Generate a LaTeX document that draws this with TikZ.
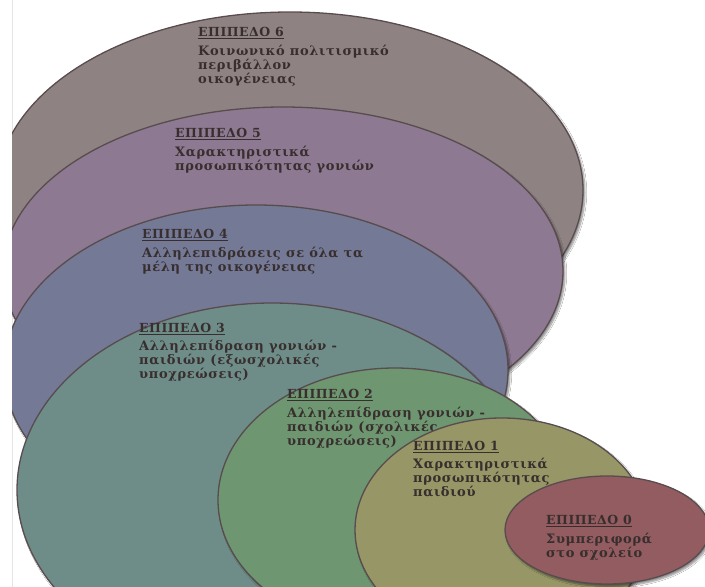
\documentclass[tikz,border=0pt]{standalone}
\usepackage{fontspec}
\newfontfamily\shellfont[LetterSpace=5]{DejaVu Serif}
\newfontfamily\headfont[LetterSpace=4]{DejaVu Serif}
\usetikzlibrary{shapes.geometric,shadows.blur}

\definecolor{sixc}{RGB}{143,130,130}
\definecolor{fivec}{RGB}{141,121,145}
\definecolor{fourc}{RGB}{116,121,150}
\definecolor{threec}{RGB}{110,141,136}
\definecolor{twoc}{RGB}{110,150,112}
\definecolor{onec}{RGB}{150,150,102}
\definecolor{zeroc}{RGB}{146,92,96}
\definecolor{edgec}{RGB}{88,76,78}
\definecolor{inkc}{RGB}{56,46,46}

\newcommand{\shellhead}[1]{{\headfont\bfseries\fontsize{12.5}{14}\selectfont\underline{#1}}}

\tikzset{
	shell/.style={ellipse, draw=edgec, line width=1.3pt, inner sep=0pt,
		blur shadow={shadow blur steps=6, shadow xshift=2pt, shadow yshift=-2.5pt, shadow opacity=45}},
	shelltext/.style={anchor=north west, inner sep=0pt, align=left, text=inkc,
		font=\shellfont\bfseries\fontsize{13}{14}\selectfont}
}

\begin{document}
\begin{tikzpicture}[x=1pt,y=-1pt]
	\useasboundingbox[fill=white] (0,0) rectangle (705,587);
	\draw[gray!20] (12,0) -- (12,587);
	\begin{scope}
		\clip (12,0) rectangle (705,587);
		% level 6
		\node[shell, fill=sixc, minimum width=586pt, minimum height=356pt] (e6) at (290,190) {};
		\node[shelltext] (t6) at (198,27) {\shellhead{ΕΠΙΠΕΔΟ 6}\\[5pt]Κοινωνικό πολιτισμικό\\περιβάλλον\\οικογένειας};
		% level 5
		\node[shell, fill=fivec, minimum width=560pt, minimum height=328pt] (e5) at (283,271) {};
		\node[shelltext] (t5) at (175,128) {\shellhead{ΕΠΙΠΕΔΟ 5}\\[5pt]Χαρακτηριστικά\\προσωπικότητας γονιών};
		% level 4
		\node[shell, fill=fourc, minimum width=504pt, minimum height=330pt] (e4) at (256,370) {};
		\node[shelltext] (t4) at (142,229) {\shellhead{ΕΠΙΠΕΔΟ 4}\\[5pt]Αλληλεπιδράσεις σε όλα τα\\μέλη της οικογένειας};
		% level 3
		\node[shell, fill=threec, minimum width=510pt, minimum height=374pt] (e3) at (272,490) {};
		\node[shelltext] (t3) at (139,323) {\shellhead{ΕΠΙΠΕΔΟ 3}\\[4pt]Αλληλεπίδραση γονιών -\\παιδιών (εξωσχολικές\\υποχρεώσεις)};
		% level 2
		\node[shell, fill=twoc, minimum width=354pt, minimum height=264pt] (e2) at (395,500) {};
		\node[shelltext] (t2) at (287,389) {\shellhead{ΕΠΙΠΕΔΟ 2}\\[5pt]Αλληλεπίδραση γονιών -\\παιδιών (σχολικές\\υποχρεώσεις)};
		% level 1
		\node[shell, fill=onec, minimum width=294pt, minimum height=224pt] (e1) at (502,530) {};
		\node[shelltext] (t1) at (413,441) {\shellhead{ΕΠΙΠΕΔΟ 1}\\[4pt]Χαρακτηριστικά\\προσωπικότητας\\παιδιού};
		% level 0
		\node[shell, fill=zeroc, minimum width=204pt, minimum height=108pt] (e0) at (607,530) {};
		\node[shelltext] (t0) at (546,515) {\shellhead{ΕΠΙΠΕΔΟ 0}\\[5pt]Συμπεριφορά\\στο σχολείο};
	\end{scope}
\end{tikzpicture}
\end{document}
